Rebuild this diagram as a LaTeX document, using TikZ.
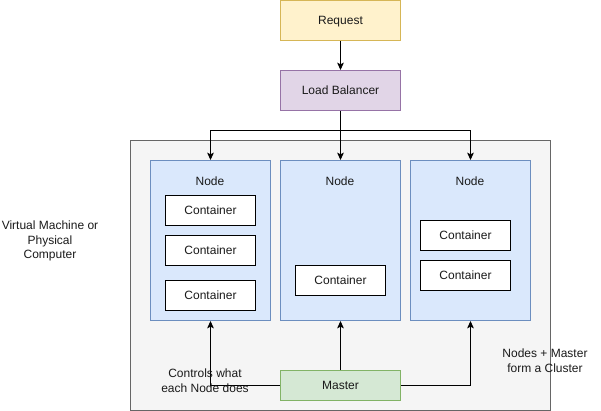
\documentclass[tikz,border=0pt]{standalone}
\usepackage{fontspec}
\setmainfont{Liberation Sans}
\usetikzlibrary{arrows.meta}
\definecolor{reqfill}{HTML}{FFF2CC}\definecolor{reqline}{HTML}{D6B656}
\definecolor{lbfill}{HTML}{E1D5E7}\definecolor{lbline}{HTML}{9673A6}
\definecolor{clfill}{HTML}{F5F5F5}\definecolor{clline}{HTML}{666666}
\definecolor{ndfill}{HTML}{DAE8FC}\definecolor{ndline}{HTML}{6C8EBF}
\definecolor{msfill}{HTML}{D5E8D4}\definecolor{msline}{HTML}{82B366}
\definecolor{txt}{HTML}{1A1A1A}
\begin{document}
\begin{tikzpicture}[x=0.75pt,y=-0.75pt,
  every node/.style={font=\fontsize{9pt}{10.5pt}\selectfont, text=txt},
  box/.style={draw, line width=0.75pt, minimum width=90pt, minimum height=30pt, inner sep=0pt, anchor=north west, text depth=0.5pt},
  cbox/.style={draw=black, fill=white, line width=0.75pt, minimum width=67.5pt, minimum height=22.5pt, inner sep=0pt, anchor=north west},
  nodebox/.style={draw=ndline, fill=ndfill, line width=0.75pt, minimum width=90pt, minimum height=120pt, inner sep=0pt, anchor=north west},
  arr/.style={line width=0.75pt, -{Stealth[length=5.5pt, width=5pt, inset=1.2pt]}},
  lbl/.style={align=center, font=\fontsize{9pt}{11pt}\selectfont}]
\useasboundingbox (0,0) rectangle (601,411);
\node[draw=clline, fill=clfill, line width=0.75pt, minimum width=315pt, minimum height=202.5pt, inner sep=0pt, anchor=north west] (cluster) at (130,140) {};
\node[box, draw=reqline, fill=reqfill] (req) at (280,0) {Request};
\node[box, draw=lbline, fill=lbfill] (lb) at (280,70) {Load Balancer};
\node[nodebox] (n1) at (150,160) {};
\node[nodebox] (n2) at (280,160) {};
\node[nodebox] (n3) at (410,160) {};
\node (n1t) at (210,181) {Node};
\node (n2t) at (340,181) {Node};
\node (n3t) at (470,181) {Node};
\node[cbox] (c11) at (165,195) {Container};
\node[cbox] (c12) at (165,235) {Container};
\node[cbox] (c13) at (165,280) {Container};
\node[cbox] (c21) at (295,265) {Container};
\node[cbox] (c31) at (420,220) {Container};
\node[cbox] (c32) at (420,260) {Container};
\node[box, draw=msline, fill=msfill, minimum height=22.5pt] (ms) at (280,370) {Master};
\coordinate (j) at (340,130);
\draw[arr] (req) -- (lb);
\draw[arr] (lb) -- (n2);
\draw[arr] (j) -| (n1);
\draw[arr] (j) -| (n3);
\draw[arr] (ms) -- (n2);
\draw[arr] (ms) -| (n1);
\draw[arr] (ms) -| (n3);
\node[lbl] (ctl) at (205,381) {Controls what\\each Node does};
\node[lbl] (clu) at (545,361) {Nodes + Master\\form a Cluster};
\node[lbl] (vm) at (50,241) {Virtual Machine or\\Physical\\Computer};
\end{tikzpicture}
\end{document}
